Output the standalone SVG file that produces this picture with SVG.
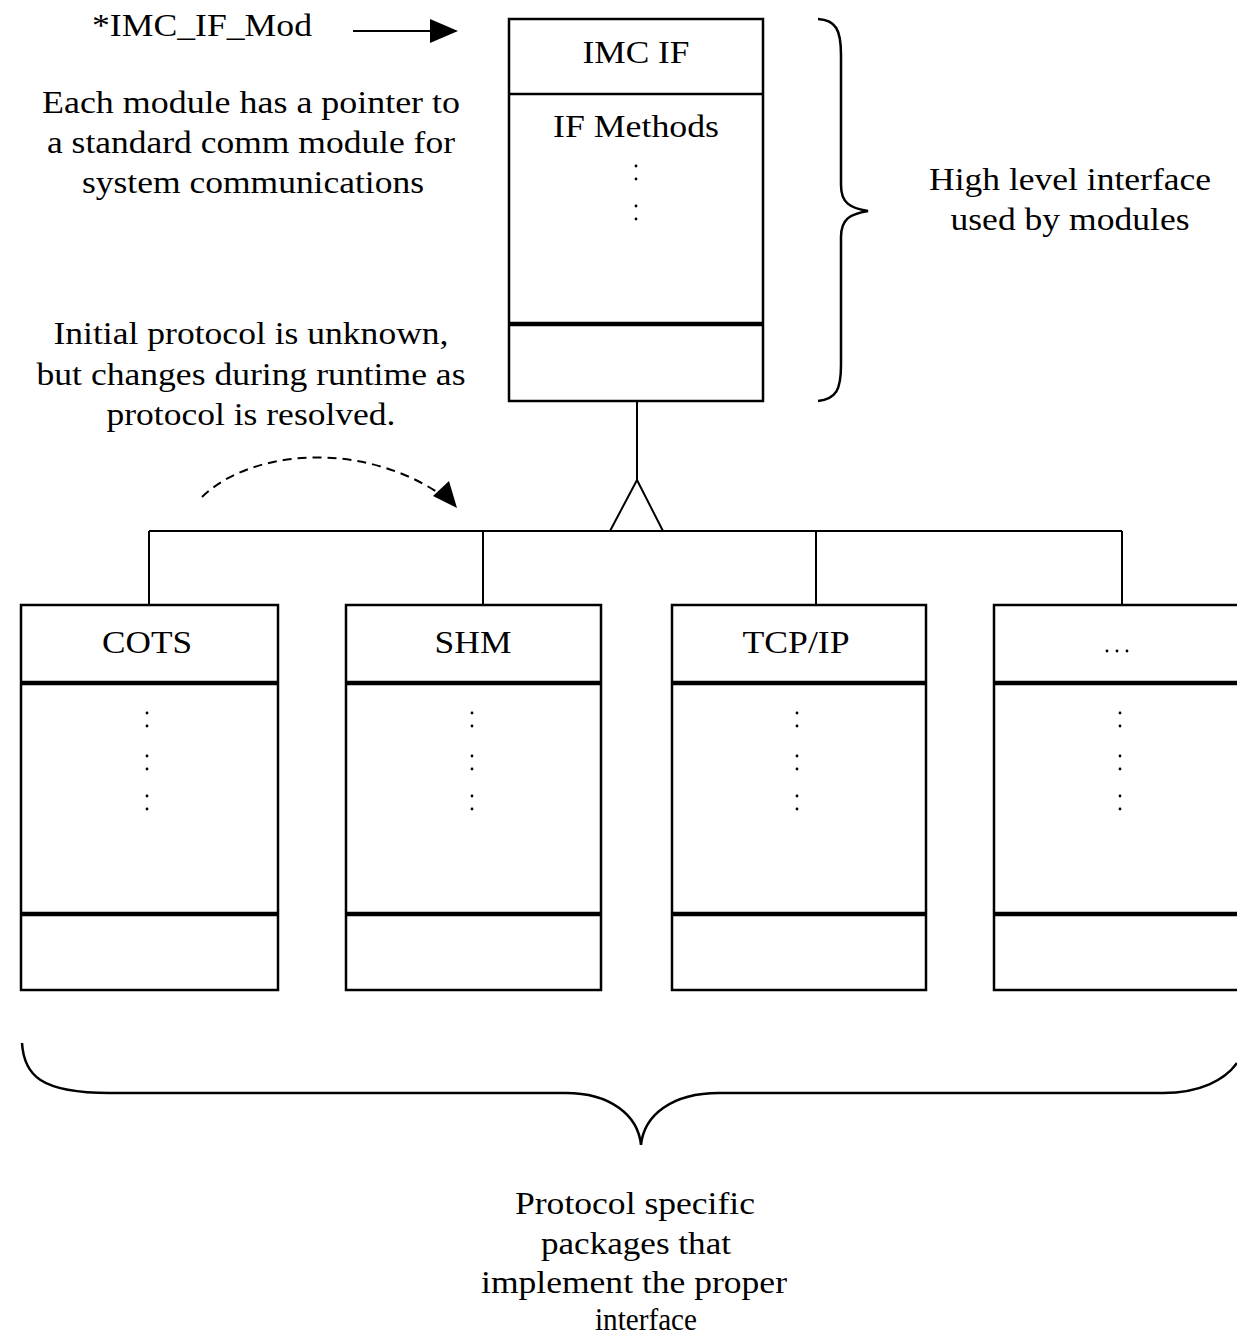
<svg xmlns="http://www.w3.org/2000/svg" width="1237" height="1339" viewBox="0 0 1237 1339">
  <defs>
    <style>
      .t { font-family: "Liberation Serif", "Times New Roman", serif; font-size: 31px; fill: #000; }
      .c { text-anchor: middle; }
      .box { fill: #fff; stroke: #000; stroke-width: 2.5; }
      .thin { stroke: #000; stroke-width: 2.5; fill: none; }
      .thick { stroke: #000; stroke-width: 4.5; fill: none; }
      .line { stroke: #000; stroke-width: 2; fill: none; }
      .brace { stroke: #000; stroke-width: 2.5; fill: none; }
      .dash { stroke: #000; stroke-width: 2; fill: none; stroke-dasharray: 9 6; }
      .dot { fill: #000; }
      .head { fill: #000; stroke: none; }
    </style>
    <g id="vdots">
      <circle cx="0" cy="0" r="1.4"/>
      <circle cx="0" cy="13" r="1.4"/>
      <circle cx="0" cy="43" r="1.4"/>
      <circle cx="0" cy="56" r="1.4"/>
      <circle cx="0" cy="83" r="1.4"/>
      <circle cx="0" cy="96" r="1.4"/>
    </g>
  </defs>

  <rect width="1237" height="1339" fill="#fff"/>

  <!-- pointer label and notes -->
  <g id="pointer-note">
    <text class="t" x="92" y="36" textLength="220" lengthAdjust="spacingAndGlyphs">*IMC_IF_Mod</text>
    <text class="t c" x="251" y="113" textLength="418" lengthAdjust="spacingAndGlyphs">Each module has a pointer to</text>
    <text class="t c" x="251" y="153" textLength="408" lengthAdjust="spacingAndGlyphs">a standard comm module for</text>
    <text class="t c" x="253" y="193" textLength="342" lengthAdjust="spacingAndGlyphs">system communications</text>
  </g>

  <g id="protocol-note">
    <text class="t c" x="251" y="344" textLength="395" lengthAdjust="spacingAndGlyphs">Initial protocol is unknown,</text>
    <text class="t c" x="251" y="385" textLength="429" lengthAdjust="spacingAndGlyphs">but changes during runtime as</text>
    <text class="t c" x="251" y="425" textLength="289" lengthAdjust="spacingAndGlyphs">protocol is resolved.</text>
  </g>

  <!-- interface class -->
  <g id="imc-if">
    <rect class="box" x="509" y="19" width="254" height="382"/>
    <line class="thin" x1="509" y1="94" x2="763" y2="94"/>
    <line class="thick" x1="509" y1="324" x2="763" y2="324"/>
    <text class="t c" x="636" y="63" textLength="107" lengthAdjust="spacingAndGlyphs">IMC IF</text>
    <text class="t c" x="636" y="137" textLength="166" lengthAdjust="spacingAndGlyphs">IF Methods</text>
    <g class="dot">
      <circle cx="636" cy="166" r="1.4"/>
      <circle cx="636" cy="179" r="1.4"/>
      <circle cx="636" cy="206" r="1.4"/>
      <circle cx="636" cy="219" r="1.4"/>
    </g>
  </g>

  <g id="high-level-note">
    <path class="brace" d="M818,19 C836,20 841,30 841,55 L841,185 C841,203 850,208 868,211 C850,214 841,219 841,237 L841,365 C841,390 836,399 818,401"/>
    <text class="t c" x="1070" y="190" textLength="282" lengthAdjust="spacingAndGlyphs">High level interface</text>
    <text class="t c" x="1070" y="230" textLength="239" lengthAdjust="spacingAndGlyphs">used by modules</text>
  </g>

  <!-- protocol packages -->
  <g id="cots">
    <rect class="box" x="21" y="605" width="257" height="385"/>
    <line class="thick" x1="21" y1="683" x2="278" y2="683"/>
    <line class="thick" x1="21" y1="914" x2="278" y2="914"/>
    <text class="t c" x="147" y="653" textLength="90" lengthAdjust="spacingAndGlyphs">COTS</text>
    <use href="#vdots" x="147" y="713"/>
  </g>

  <g id="shm">
    <rect class="box" x="346" y="605" width="255" height="385"/>
    <line class="thick" x1="346" y1="683" x2="601" y2="683"/>
    <line class="thick" x1="346" y1="914" x2="601" y2="914"/>
    <text class="t c" x="473" y="653" textLength="77" lengthAdjust="spacingAndGlyphs">SHM</text>
    <use href="#vdots" x="472" y="713"/>
  </g>

  <g id="tcpip">
    <rect class="box" x="672" y="605" width="254" height="385"/>
    <line class="thick" x1="672" y1="683" x2="926" y2="683"/>
    <line class="thick" x1="672" y1="914" x2="926" y2="914"/>
    <text class="t c" x="796" y="653" textLength="107" lengthAdjust="spacingAndGlyphs">TCP/IP</text>
    <use href="#vdots" x="797" y="713"/>
  </g>

  <g id="more">
    <rect class="box" x="994" y="605" width="260" height="385"/>
    <line class="thick" x1="994" y1="683" x2="1240" y2="683"/>
    <line class="thick" x1="994" y1="914" x2="1240" y2="914"/>
    <g class="dot">
      <circle cx="1107" cy="651" r="1.4"/>
      <circle cx="1117" cy="651" r="1.4"/>
      <circle cx="1127" cy="651" r="1.4"/>
    </g>
    <use href="#vdots" x="1120" y="713"/>
  </g>

  <g id="packages-note">
    <path class="brace" d="M22,1043 C24,1075 40,1093 110,1093 L566,1093 C610,1093 638,1115 641,1145 C644,1115 672,1093 719,1093 L1163,1093 C1200,1093 1225,1080 1237,1063"/>
    <text class="t c" x="635" y="1214" textLength="240" lengthAdjust="spacingAndGlyphs">Protocol specific</text>
    <text class="t c" x="636" y="1254" textLength="190" lengthAdjust="spacingAndGlyphs">packages that</text>
    <text class="t c" x="634" y="1293" textLength="306" lengthAdjust="spacingAndGlyphs">implement the proper</text>
    <text class="t c" x="646" y="1330" font-size="29" textLength="102" lengthAdjust="spacingAndGlyphs">interface</text>
  </g>

  <!-- connectors -->
  <g id="connectors">
    <line class="line" x1="353" y1="31" x2="432" y2="31"/>
    <path class="head" d="M430,19 L458,31 L430,43 z"/>
    <line class="line" x1="637" y1="401" x2="637" y2="480"/>
    <path class="line" d="M637,480 L610,531 M637,480 L663,531"/>
    <line class="line" x1="149" y1="531" x2="1122" y2="531"/>
    <line class="line" x1="149" y1="531" x2="149" y2="605"/>
    <line class="line" x1="483" y1="531" x2="483" y2="605"/>
    <line class="line" x1="816" y1="531" x2="816" y2="605"/>
    <line class="line" x1="1122" y1="531" x2="1122" y2="605"/>
    <path class="dash" d="M202,497 C250,450 360,440 440,494"/>
    <path class="head" d="M457,508 L433,496 L449,481 z"/>
  </g>
</svg>
